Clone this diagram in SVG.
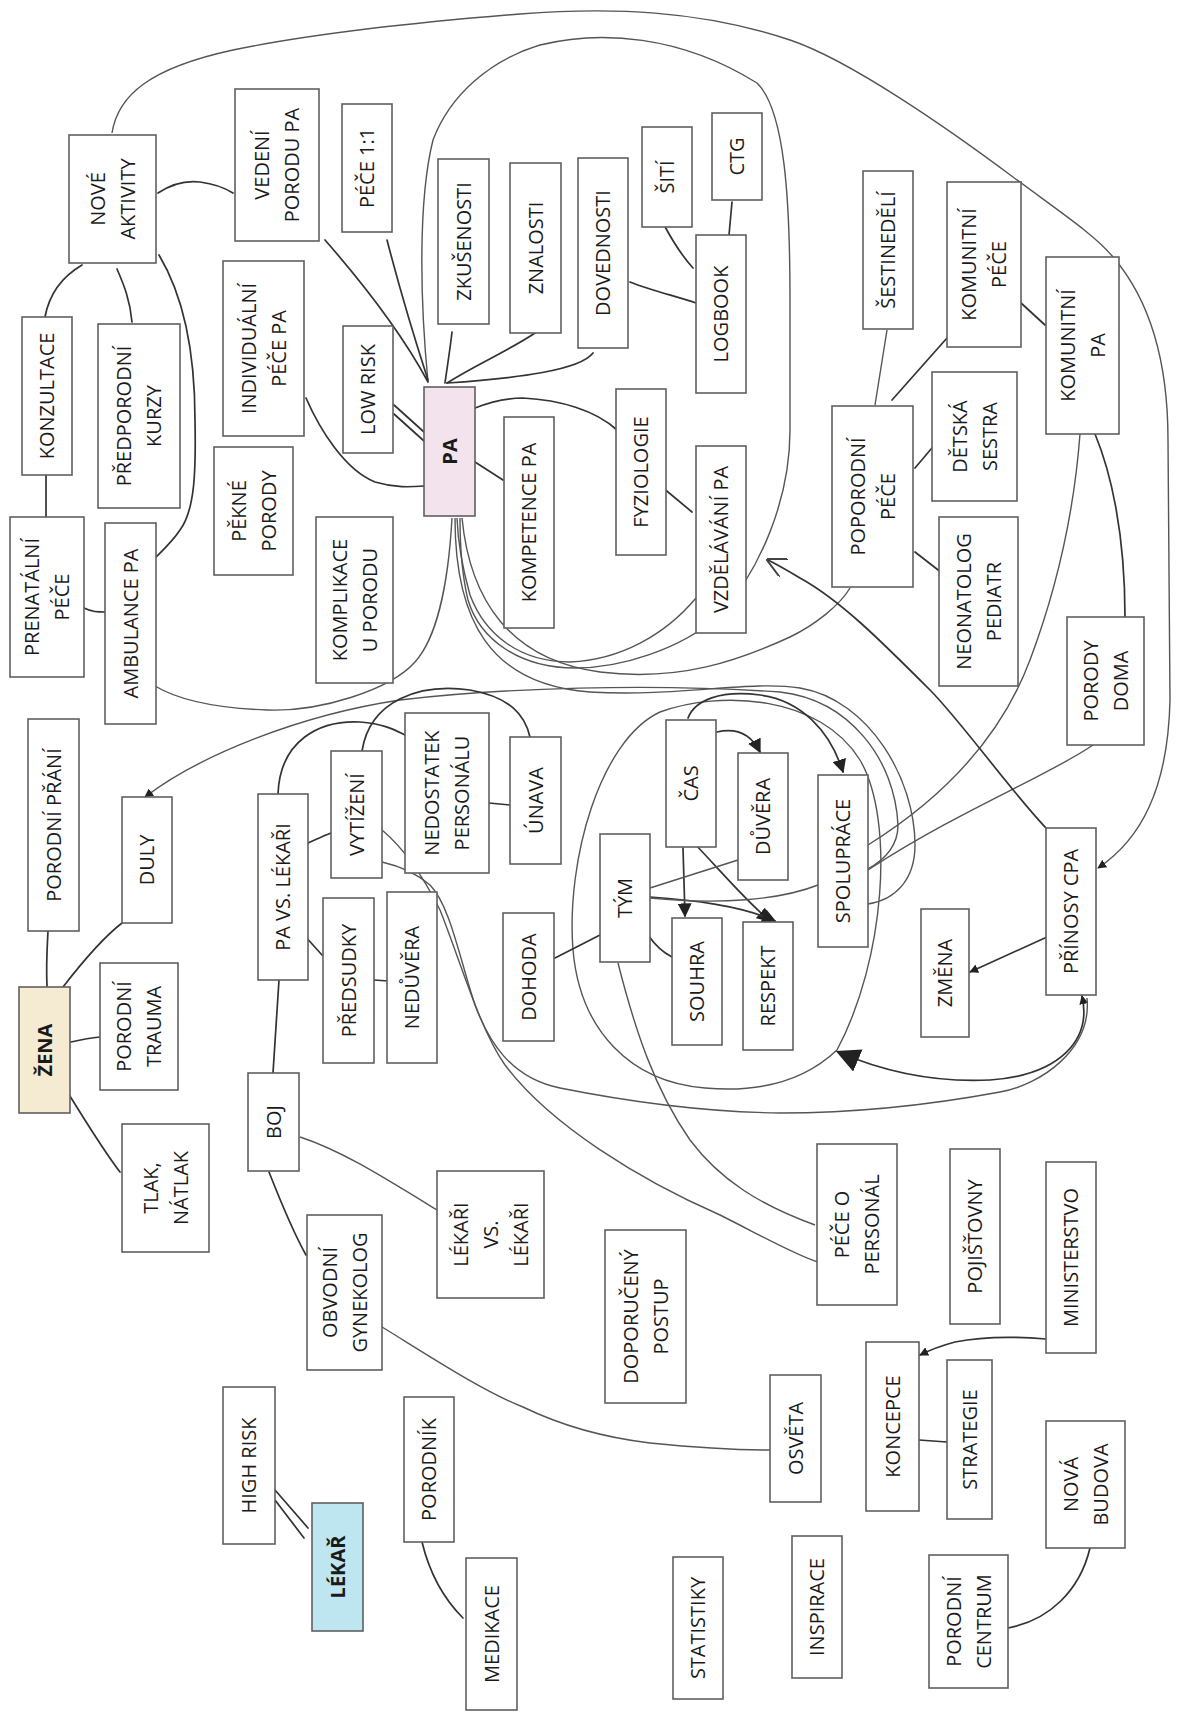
<svg xmlns="http://www.w3.org/2000/svg" width="1186" height="1714" viewBox="0 0 1186 1714">
<defs>
<style>
.box{fill:#fff;stroke:#606060;stroke-width:1.6}
.t{font-family:"Open Sans","Noto Sans","DejaVu Sans",sans-serif;font-size:20px;fill:#1a1a1a;text-anchor:middle}
.b{font-weight:bold}
.c{fill:none;stroke:#333;stroke-width:1.7;stroke-linecap:round}
.cl{fill:none;stroke:#555;stroke-width:1.4}
</style>
<marker id="af" viewBox="0 0 10 10" refX="9" refY="5" markerWidth="14" markerHeight="14" markerUnits="userSpaceOnUse" orient="auto"><path d="M0,0 L10,5 L0,10 z" fill="#222"/></marker>
<marker id="ab" viewBox="0 0 10 10" refX="9" refY="5" markerWidth="24" markerHeight="24" markerUnits="userSpaceOnUse" orient="auto"><path d="M0,0 L10,5 L0,10 z" fill="#222"/></marker>
<marker id="as" viewBox="0 0 10 10" refX="9" refY="5" markerWidth="9" markerHeight="9" markerUnits="userSpaceOnUse" orient="auto"><path d="M0,0 L10,5 L0,10 z" fill="#222"/></marker>
<marker id="ss" viewBox="0 0 10 10" refX="1" refY="5" markerWidth="9" markerHeight="9" markerUnits="userSpaceOnUse" orient="auto"><path d="M10,0 L0,5 L10,10 z" fill="#222"/></marker>
<marker id="ao" viewBox="0 0 10 10" refX="9" refY="5" markerWidth="20" markerHeight="20" markerUnits="userSpaceOnUse" orient="auto"><path d="M0,0 L10,5 L0,10" fill="none" stroke="#444" stroke-width="1"/></marker>
</defs>
<rect width="1186" height="1714" fill="#fff"/>

<g id="connectors">
<path class="cl" d="M112,133 C118,95 150,68 233,50 C320,32 420,22 520,14 C610,7 700,10 790,40 C850,60 950,130 1013,177 C1060,212 1095,235 1113,257 C1150,300 1168,360 1168,440 L1170,700 C1168,790 1140,840 1098,868" marker-end="url(#as)"/>
<path class="cl" d="M428,382 C420,300 418,200 433,140 C450,95 490,60 540,45 C600,30 680,35 757,83 C785,110 790,200 790,300 L790,430 C790,500 760,570 720,615 C680,650 620,668 575,668 C520,668 480,640 468,600 C462,575 460,545 460,518"/>
<path class="cl" d="M696,598 C665,635 620,660 570,662 C520,662 485,635 470,595 C463,570 458,545 457,518"/>
<path class="cl" d="M452,518 C448,590 435,640 415,662 C390,690 320,712 267,710 C210,708 175,698 155,686"/>
<path class="cl" d="M462,518 C470,600 510,660 600,672 C680,682 740,660 790,637 C815,625 840,605 850,588"/>
<path class="cl" d="M455,518 C455,620 490,685 590,692 C680,697 750,680 800,688 C870,700 915,780 915,845 C915,880 895,900 868,904"/>
<path class="cl" d="M866,870 C885,860 898,845 898,825 C895,760 850,700 780,692 C650,683 500,688 400,700 C300,715 200,755 145,797" marker-end="url(#as)"/>
<path class="cl" d="M837,1050 C800,1085 750,1092 705,1088 C630,1082 580,1030 573,950 C566,860 600,740 660,712 C720,690 820,695 860,760 C895,820 885,960 837,1050"/>
<path class="c" d="M1082,996 C1092,1040 1060,1075 990,1080 C930,1083 880,1070 838,1052" marker-end="url(#ab)" marker-start="url(#ss)"/>
<path class="cl" d="M1087,998 C1092,1050 1040,1085 1000,1092 C930,1105 850,1113 780,1113 C700,1112 620,1100 560,1088 C510,1078 488,1040 475,1005 C460,960 450,905 430,885 C415,872 395,865 382,862"/>
<path class="cl" d="M382,830 C400,845 420,870 440,910 C460,960 480,1030 505,1065 C550,1125 640,1180 720,1215 C760,1235 795,1255 818,1262"/>
<path class="cl" d="M618,963 C635,1030 655,1090 690,1140 C720,1180 760,1205 815,1225"/>
<path class="c" d="M600,935 L555,958"/>
<path class="c" d="M648,935 C655,945 662,952 672,957"/>
<path class="c" d="M683,848 L685,916" marker-end="url(#af)"/>
<path class="c" d="M717,732 C735,728 750,732 760,752" marker-end="url(#af)"/>
<path class="c" d="M693,842 C720,870 745,900 770,921" marker-end="url(#af)"/>
<path class="c" d="M650,897 C690,900 740,905 775,921" marker-end="url(#af)"/>
<path class="cl" d="M650,888 L738,860"/>
<path class="cl" d="M650,898 C720,905 780,900 818,885"/>
<path class="c" d="M688,718 C695,700 720,690 760,695 C800,700 830,730 843,772" marker-end="url(#af)"/>
<path class="cl" d="M868,845 C940,800 1000,740 1030,660 C1060,580 1075,500 1080,434"/>
<path class="c" d="M1095,434 C1110,470 1125,530 1125,617"/>
<path class="cl" d="M1093,745 C1050,775 960,810 868,870"/>
<path class="c" d="M1046,828 C1010,790 960,720 930,690 C880,640 840,600 800,578 C790,572 780,566 768,560" marker-end="url(#ao)"/>
<path class="c" d="M1047,937 L970,972" marker-end="url(#as)"/>
<path class="cl" d="M875,405 L887,330"/>
<path class="c" d="M892,400 L947,338"/>
<path class="c" d="M915,468 L937,442"/>
<path class="c" d="M915,552 L942,573"/>
<path class="c" d="M1021,303 L1045,325"/>
<path class="c" d="M158,193 C170,185 183,180 200,182 C215,184 225,188 233,193"/>
<path class="c" d="M82,265 C65,275 50,290 45,317"/>
<path class="c" d="M117,269 C124,285 130,300 132,322"/>
<path class="c" d="M159,255 C180,290 195,340 195,420 C196,470 195,510 180,530 C172,542 163,550 156,557"/>
<path class="c" d="M325,240 C360,280 400,330 428,382"/>
<path class="c" d="M387,240 C400,290 415,340 428,380"/>
<path class="c" d="M306,398 C320,430 345,470 375,482 C395,488 410,487 424,486"/>
<path class="c" d="M394,405 L424,432"/>
<path class="c" d="M394,414 L424,441"/>
<path class="c" d="M452,332 C450,350 447,368 445,383"/>
<path class="c" d="M535,333 C510,350 475,365 447,383"/>
<path class="c" d="M593,353 C580,370 520,378 447,383"/>
<path class="c" d="M630,282 C650,290 675,296 696,303"/>
<path class="c" d="M663,223 C672,240 682,256 693,268"/>
<path class="c" d="M732,202 L729,235"/>
<path class="c" d="M475,408 C490,402 505,398 523,398 C560,400 595,410 617,430"/>
<path class="c" d="M475,462 L503,480"/>
<path class="c" d="M662,487 L692,512"/>
<path class="c" d="M46,475 L46,517"/>
<path class="c" d="M84,608 C92,612 98,612 105,612"/>
<path class="c" d="M47,986 C46,965 47,950 48,931"/>
<path class="c" d="M63,987 C80,965 100,940 122,923"/>
<path class="c" d="M71,1042 C80,1040 90,1038 100,1037"/>
<path class="c" d="M68,1093 C85,1120 103,1150 120,1172"/>
<path class="c" d="M304,935 L322,955"/>
<path class="c" d="M374,980 L388,981"/>
<path class="c" d="M279,980 C277,1010 275,1040 273,1073"/>
<path class="c" d="M308,843 C315,840 323,836 331,833"/>
<path class="cl" d="M300,1137 C340,1150 380,1175 437,1210"/>
<path class="c" d="M269,1172 C280,1200 292,1230 306,1255"/>
<path class="c" d="M278,794 C280,740 320,720 360,722 C385,724 395,730 405,735"/>
<path class="c" d="M362,751 C370,700 420,683 470,690 C510,697 525,715 530,737"/>
<path class="c" d="M489,803 L510,805"/>
<path class="cl" d="M382,1327 C420,1350 480,1390 523,1407 C560,1425 600,1437 650,1443 C700,1448 740,1450 770,1450"/>
<path class="c" d="M275,1490 L308,1528"/>
<path class="c" d="M275,1500 L304,1538"/>
<path class="c" d="M422,1542 C430,1575 445,1600 463,1618"/>
<path class="c" d="M1046,1339 C1010,1336 980,1337 955,1342 C940,1346 930,1350 920,1355" marker-end="url(#as)"/>
<path class="c" d="M919,1440 L947,1442"/>
<path class="c" d="M1090,1548 C1080,1590 1050,1620 1008,1628"/>
</g>

<g id="n-nove-aktivity"><rect class="box" x="69" y="135" width="87" height="128"/><text class="t" transform="translate(112.5 199) rotate(-90)"><tspan x="0" y="-8">NOVÉ</tspan><tspan x="0" y="22">AKTIVITY</tspan></text></g>
<g id="n-vedeni-porodu"><rect class="box" x="235" y="89" width="84" height="152"/><text class="t" transform="translate(277 165) rotate(-90)"><tspan x="0" y="-8">VEDENÍ</tspan><tspan x="0" y="22">PORODU PA</tspan></text></g>
<g id="n-pece11"><rect class="box" x="342" y="104" width="50" height="128"/><text class="t" transform="translate(367 168) rotate(-90)"><tspan x="0" y="7">PÉČE 1:1</tspan></text></g>
<g id="n-konzultace"><rect class="box" x="22" y="317" width="50" height="158"/><text class="t" transform="translate(47 396) rotate(-90)"><tspan x="0" y="7">KONZULTACE</tspan></text></g>
<g id="n-predporodni"><rect class="box" x="98" y="324" width="82" height="184"/><text class="t" transform="translate(139 416) rotate(-90)"><tspan x="0" y="-8">PŘEDPORODNÍ</tspan><tspan x="0" y="22">KURZY</tspan></text></g>
<g id="n-individualni"><rect class="box" x="223" y="261" width="81" height="175"/><text class="t" transform="translate(263.5 348.5) rotate(-90)"><tspan x="0" y="-8">INDIVIDUÁLNÍ</tspan><tspan x="0" y="22">PÉČE PA</tspan></text></g>
<g id="n-low-risk"><rect class="box" x="343" y="326" width="50" height="127"/><text class="t" transform="translate(368 389.5) rotate(-90)"><tspan x="0" y="7">LOW RISK</tspan></text></g>
<g id="n-zkusenosti"><rect class="box" x="438" y="159" width="51" height="165"/><text class="t" transform="translate(463.5 241.5) rotate(-90)"><tspan x="0" y="7">ZKUŠENOSTI</tspan></text></g>
<g id="n-znalosti"><rect class="box" x="510" y="163" width="51" height="170"/><text class="t" transform="translate(535.5 248) rotate(-90)"><tspan x="0" y="7">ZNALOSTI</tspan></text></g>
<g id="n-dovednosti"><rect class="box" x="578" y="158" width="50" height="190"/><text class="t" transform="translate(603 253) rotate(-90)"><tspan x="0" y="7">DOVEDNOSTI</tspan></text></g>
<g id="n-siti"><rect class="box" x="642" y="127" width="50" height="100"/><text class="t" transform="translate(667 177) rotate(-90)"><tspan x="0" y="7">ŠITÍ</tspan></text></g>
<g id="n-ctg"><rect class="box" x="712" y="113" width="50" height="87"/><text class="t" transform="translate(737 156.5) rotate(-90)"><tspan x="0" y="7">CTG</tspan></text></g>
<g id="n-logbook"><rect class="box" x="696" y="235" width="50" height="158"/><text class="t" transform="translate(721 314) rotate(-90)"><tspan x="0" y="7">LOGBOOK</tspan></text></g>
<g id="n-pa"><rect class="box" x="424" y="387" width="51" height="129" style="fill:#f2e3ec"/><text class="t b" transform="translate(449.5 451.5) rotate(-90)"><tspan x="0" y="7">PA</tspan></text></g>
<g id="n-fyziologie"><rect class="box" x="616" y="389" width="50" height="166"/><text class="t" transform="translate(641 472) rotate(-90)"><tspan x="0" y="7">FYZIOLOGIE</tspan></text></g>
<g id="n-kompetence"><rect class="box" x="504" y="417" width="50" height="211"/><text class="t" transform="translate(529 522.5) rotate(-90)"><tspan x="0" y="7">KOMPETENCE PA</tspan></text></g>
<g id="n-sestinedeli"><rect class="box" x="863" y="171" width="50" height="158"/><text class="t" transform="translate(888 250) rotate(-90)"><tspan x="0" y="7">ŠESTINEDĚLÍ</tspan></text></g>
<g id="n-komunitni-pece"><rect class="box" x="947" y="182" width="74" height="165"/><text class="t" transform="translate(984 264.5) rotate(-90)"><tspan x="0" y="-8">KOMUNITNÍ</tspan><tspan x="0" y="22">PÉČE</tspan></text></g>
<g id="n-detska-sestra"><rect class="box" x="932" y="372" width="85" height="129"/><text class="t" transform="translate(974.5 436.5) rotate(-90)"><tspan x="0" y="-8">DĚTSKÁ</tspan><tspan x="0" y="22">SESTRA</tspan></text></g>
<g id="n-komunitni-pa"><rect class="box" x="1046" y="257" width="73" height="177"/><text class="t" transform="translate(1082.5 345.5) rotate(-90)"><tspan x="0" y="-8">KOMUNITNÍ</tspan><tspan x="0" y="22">PA</tspan></text></g>
<g id="n-poporodni"><rect class="box" x="832" y="406" width="81" height="181"/><text class="t" transform="translate(872.5 496.5) rotate(-90)"><tspan x="0" y="-8">POPORODNÍ</tspan><tspan x="0" y="22">PÉČE</tspan></text></g>
<g id="n-neonatolog"><rect class="box" x="939" y="517" width="79" height="169"/><text class="t" transform="translate(978.5 601.5) rotate(-90)"><tspan x="0" y="-8">NEONATOLOG</tspan><tspan x="0" y="22">PEDIATR</tspan></text></g>
<g id="n-porody-doma"><rect class="box" x="1067" y="617" width="77" height="128"/><text class="t" transform="translate(1105.5 681) rotate(-90)"><tspan x="0" y="-8">PORODY</tspan><tspan x="0" y="22">DOMA</tspan></text></g>
<g id="n-spoluprace"><rect class="box" x="818" y="775" width="50" height="172"/><text class="t" transform="translate(843 861) rotate(-90)"><tspan x="0" y="7">SPOLUPRÁCE</tspan></text></g>
<g id="n-prinosy"><rect class="box" x="1046" y="828" width="50" height="167"/><text class="t" transform="translate(1071 911.5) rotate(-90)"><tspan x="0" y="7">PŘÍNOSY CPA</tspan></text></g>
<g id="n-prenatalni"><rect class="box" x="10" y="517" width="74" height="160"/><text class="t" transform="translate(47 597) rotate(-90)"><tspan x="0" y="-8">PRENATÁLNÍ</tspan><tspan x="0" y="22">PÉČE</tspan></text></g>
<g id="n-ambulance"><rect class="box" x="105" y="523" width="51" height="201"/><text class="t" transform="translate(130.5 623.5) rotate(-90)"><tspan x="0" y="7">AMBULANCE PA</tspan></text></g>
<g id="n-pekne"><rect class="box" x="214" y="447" width="79" height="128"/><text class="t" transform="translate(253.5 511) rotate(-90)"><tspan x="0" y="-8">PĚKNÉ</tspan><tspan x="0" y="22">PORODY</tspan></text></g>
<g id="n-komplikace"><rect class="box" x="316" y="517" width="77" height="166"/><text class="t" transform="translate(354.5 600) rotate(-90)"><tspan x="0" y="-8">KOMPLIKACE</tspan><tspan x="0" y="22">U PORODU</tspan></text></g>
<g id="n-porodni-prani"><rect class="box" x="28" y="719" width="51" height="212"/><text class="t" transform="translate(53.5 825) rotate(-90)"><tspan x="0" y="7">PORODNÍ PŘÁNÍ</tspan></text></g>
<g id="n-duly"><rect class="box" x="122" y="797" width="50" height="126"/><text class="t" transform="translate(147 860) rotate(-90)"><tspan x="0" y="7">DULY</tspan></text></g>
<g id="n-pa-vs-lekari"><rect class="box" x="258" y="794" width="50" height="186"/><text class="t" transform="translate(283 887) rotate(-90)"><tspan x="0" y="7">PA VS. LÉKAŘI</tspan></text></g>
<g id="n-vytizeni"><rect class="box" x="331" y="751" width="51" height="127"/><text class="t" transform="translate(356.5 814.5) rotate(-90)"><tspan x="0" y="7">VYTÍŽENÍ</tspan></text></g>
<g id="n-nedostatek"><rect class="box" x="405" y="713" width="84" height="160"/><text class="t" transform="translate(447 793) rotate(-90)"><tspan x="0" y="-8">NEDOSTATEK</tspan><tspan x="0" y="22">PERSONÁLU</tspan></text></g>
<g id="n-unava"><rect class="box" x="510" y="737" width="51" height="127"/><text class="t" transform="translate(535.5 800.5) rotate(-90)"><tspan x="0" y="7">ÚNAVA</tspan></text></g>
<g id="n-cas"><rect class="box" x="666" y="720" width="50" height="127"/><text class="t" transform="translate(691 783.5) rotate(-90)"><tspan x="0" y="7">ČAS</tspan></text></g>
<g id="n-duvera"><rect class="box" x="738" y="753" width="50" height="127"/><text class="t" transform="translate(763 816.5) rotate(-90)"><tspan x="0" y="7">DŮVĚRA</tspan></text></g>
<g id="n-vzdelavani"><rect class="box" x="696" y="446" width="50" height="187"/><text class="t" transform="translate(721 539.5) rotate(-90)"><tspan x="0" y="7">VZDĚLÁVÁNÍ PA</tspan></text></g>
<g id="n-tym"><rect class="box" x="600" y="834" width="50" height="128"/><text class="t" transform="translate(625 898) rotate(-90)"><tspan x="0" y="7">TÝM</tspan></text></g>
<g id="n-zena"><rect class="box" x="19" y="987" width="51" height="126" style="fill:#f5ebd3"/><text class="t b" transform="translate(44.5 1050) rotate(-90)"><tspan x="0" y="7">ŽENA</tspan></text></g>
<g id="n-porodni-trauma"><rect class="box" x="100" y="963" width="78" height="127"/><text class="t" transform="translate(139 1026.5) rotate(-90)"><tspan x="0" y="-8">PORODNÍ</tspan><tspan x="0" y="22">TRAUMA</tspan></text></g>
<g id="n-tlak"><rect class="box" x="122" y="1124" width="87" height="128"/><text class="t" transform="translate(165.5 1188) rotate(-90)"><tspan x="0" y="-8">TLAK,</tspan><tspan x="0" y="22">NÁTLAK</tspan></text></g>
<g id="n-predsudky"><rect class="box" x="323" y="898" width="51" height="165"/><text class="t" transform="translate(348.5 980.5) rotate(-90)"><tspan x="0" y="7">PŘEDSUDKY</tspan></text></g>
<g id="n-neduvera"><rect class="box" x="387" y="892" width="50" height="171"/><text class="t" transform="translate(412 977.5) rotate(-90)"><tspan x="0" y="7">NEDŮVĚRA</tspan></text></g>
<g id="n-boj"><rect class="box" x="248" y="1073" width="51" height="98"/><text class="t" transform="translate(273.5 1122) rotate(-90)"><tspan x="0" y="7">BOJ</tspan></text></g>
<g id="n-obvodni"><rect class="box" x="307" y="1215" width="75" height="155"/><text class="t" transform="translate(344.5 1292.5) rotate(-90)"><tspan x="0" y="-8">OBVODNÍ</tspan><tspan x="0" y="22">GYNEKOLOG</tspan></text></g>
<g id="n-dohoda"><rect class="box" x="503" y="913" width="51" height="128"/><text class="t" transform="translate(528.5 977) rotate(-90)"><tspan x="0" y="7">DOHODA</tspan></text></g>
<g id="n-souhra"><rect class="box" x="672" y="918" width="50" height="127"/><text class="t" transform="translate(697 981.5) rotate(-90)"><tspan x="0" y="7">SOUHRA</tspan></text></g>
<g id="n-respekt"><rect class="box" x="743" y="922" width="50" height="128"/><text class="t" transform="translate(768 986) rotate(-90)"><tspan x="0" y="7">RESPEKT</tspan></text></g>
<g id="n-lekari-vs-lekari"><rect class="box" x="437" y="1171" width="107" height="127"/><text class="t" transform="translate(490.5 1234.5) rotate(-90)"><tspan x="0" y="-23">LÉKAŘI</tspan><tspan x="0" y="7">VS.</tspan><tspan x="0" y="37">LÉKAŘI</tspan></text></g>
<g id="n-doporuceny"><rect class="box" x="605" y="1230" width="81" height="173"/><text class="t" transform="translate(645.5 1316.5) rotate(-90)"><tspan x="0" y="-8">DOPORUČENÝ</tspan><tspan x="0" y="22">POSTUP</tspan></text></g>
<g id="n-zmena"><rect class="box" x="921" y="909" width="48" height="128"/><text class="t" transform="translate(945 973) rotate(-90)"><tspan x="0" y="7">ZMĚNA</tspan></text></g>
<g id="n-pece-o-personal"><rect class="box" x="817" y="1144" width="80" height="161"/><text class="t" transform="translate(857 1224.5) rotate(-90)"><tspan x="0" y="-8">PÉČE O</tspan><tspan x="0" y="22">PERSONÁL</tspan></text></g>
<g id="n-pojistovny"><rect class="box" x="950" y="1149" width="50" height="175"/><text class="t" transform="translate(975 1236.5) rotate(-90)"><tspan x="0" y="7">POJIŠŤOVNY</tspan></text></g>
<g id="n-ministerstvo"><rect class="box" x="1046" y="1162" width="50" height="191"/><text class="t" transform="translate(1071 1257.5) rotate(-90)"><tspan x="0" y="7">MINISTERSTVO</tspan></text></g>
<g id="n-high-risk"><rect class="box" x="223" y="1387" width="52" height="157"/><text class="t" transform="translate(249 1465.5) rotate(-90)"><tspan x="0" y="7">HIGH RISK</tspan></text></g>
<g id="n-lekar"><rect class="box" x="312" y="1503" width="51" height="128" style="fill:#bde6f0"/><text class="t b" transform="translate(337.5 1567) rotate(-90)"><tspan x="0" y="7">LÉKAŘ</tspan></text></g>
<g id="n-porodnik"><rect class="box" x="404" y="1397" width="50" height="145"/><text class="t" transform="translate(429 1469.5) rotate(-90)"><tspan x="0" y="7">PORODNÍK</tspan></text></g>
<g id="n-medikace"><rect class="box" x="466" y="1558" width="51" height="152"/><text class="t" transform="translate(491.5 1634) rotate(-90)"><tspan x="0" y="7">MEDIKACE</tspan></text></g>
<g id="n-statistiky"><rect class="box" x="673" y="1557" width="50" height="142"/><text class="t" transform="translate(698 1628) rotate(-90)"><tspan x="0" y="7">STATISTIKY</tspan></text></g>
<g id="n-osveta"><rect class="box" x="770" y="1375" width="51" height="127"/><text class="t" transform="translate(795.5 1438.5) rotate(-90)"><tspan x="0" y="7">OSVĚTA</tspan></text></g>
<g id="n-koncepce"><rect class="box" x="866" y="1342" width="53" height="169"/><text class="t" transform="translate(892.5 1426.5) rotate(-90)"><tspan x="0" y="7">KONCEPCE</tspan></text></g>
<g id="n-strategie"><rect class="box" x="947" y="1360" width="45" height="159"/><text class="t" transform="translate(969.5 1439.5) rotate(-90)"><tspan x="0" y="7">STRATEGIE</tspan></text></g>
<g id="n-inspirace"><rect class="box" x="792" y="1536" width="50" height="142"/><text class="t" transform="translate(817 1607) rotate(-90)"><tspan x="0" y="7">INSPIRACE</tspan></text></g>
<g id="n-porodni-centrum"><rect class="box" x="929" y="1555" width="79" height="133"/><text class="t" transform="translate(968.5 1621.5) rotate(-90)"><tspan x="0" y="-8">PORODNÍ</tspan><tspan x="0" y="22">CENTRUM</tspan></text></g>
<g id="n-nova-budova"><rect class="box" x="1046" y="1421" width="79" height="127"/><text class="t" transform="translate(1085.5 1484.5) rotate(-90)"><tspan x="0" y="-8">NOVÁ</tspan><tspan x="0" y="22">BUDOVA</tspan></text></g>
</svg>
